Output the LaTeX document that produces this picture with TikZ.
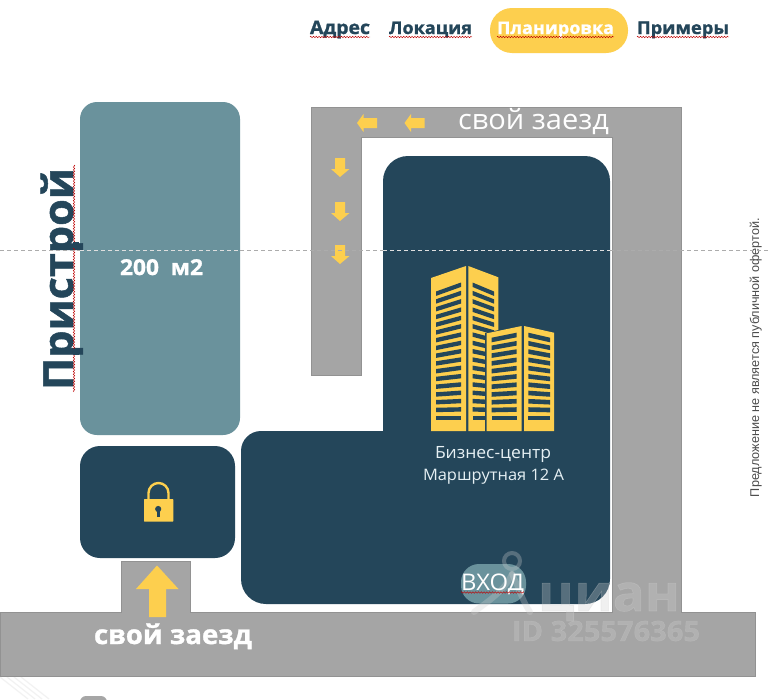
\documentclass[tikz,border=0pt]{standalone}
\usepackage{fontspec}
\usepackage{graphicx}
\usetikzlibrary{decorations.pathmorphing}
\setmainfont[FakeStretch=1.04,BoldFeatures={FakeBold=1.2}]{Open Sans}
\newfontfamily\arialf{Liberation Sans}
\definecolor{roadc}{HTML}{A5A5A5}
\definecolor{roadl}{HTML}{929292}
\definecolor{darkc}{HTML}{24465A}
\definecolor{tealc}{HTML}{6A929C}
\definecolor{yelc}{HTML}{FDCF4E}
\definecolor{lightt}{HTML}{E6F0F4}
\definecolor{wmc}{HTML}{D0D0D0}
\newcommand{\fitw}[2]{\resizebox{#1pt}{!}{#2}}
\newcommand{\fsz}[1]{\fontsize{#1}{#1}\selectfont}
% bars: xL xR yL0 yR0 yEnd n thickness
\newcommand{\winbars}[7]{%
  \pgfmathsetmacro{\nn}{#6-1}%
  \foreach \ii in {0,...,\nn}{%
    \pgfmathsetmacro{\ya}{#3+(#5-#3)*\ii/\nn}%
    \pgfmathsetmacro{\yb}{#4+(#5-#4)*\ii/\nn}%
    \fill[darkc] (#1,\ya) -- (#2,\yb) -- (#2,\yb+#7) -- (#1,\ya+#7) -- cycle;
  }}
\tikzset{
  x=1pt,y=-1pt,
  txt/.style={inner sep=0pt,outer sep=0pt},
  arr/.style={fill=yelc,draw=none},
  squigl/.style={red!75!black,line width=.45pt,decorate,decoration={zigzag,amplitude=.8pt,segment length=2.8pt}},
  foldd/.style={gray!65,line width=.5pt,dash pattern=on 4pt off 3pt},
  foldl/.style={white!75!gray,line width=.5pt,dash pattern=on 4pt off 3pt},
}
\newcommand{\squig}[3]{\draw[squigl] (#1,#3) -- (#2,#3);}
\begin{document}
\begin{tikzpicture}
\useasboundingbox (0,0) rectangle (770,699);
\fill[white] (0,0) rectangle (770,699);
% faint corner pattern
\foreach \dd in {0,7,14,21}{
  \draw[black!5,line width=1.2pt] (\dd,677) -- (\dd+28,699);
}
% road
\draw[fill=roadc,draw=roadl,line width=.9pt] (311,107) -- (681,107) -- (681,612) -- (755,612) -- (755,676) -- (0,676) -- (0,612) -- (121,612) -- (121,561) -- (190,561) -- (190,612) -- (612,612) -- (612,137) -- (361,137) -- (361,375) -- (311,375) -- cycle;
% annex
\fill[tealc,rounded corners=17pt] (80,102) rectangle (240,435);
% lock box
\fill[darkc,rounded corners=20pt] (80,446) rectangle (235,558);
% main building
\fill[darkc,rounded corners=25pt] (383,300) -- (383,156) -- (610,156) -- (610,604) -- (241,604) [rounded corners=20pt] -- (241,431) [sharp corners] -- (383,431) -- cycle;
% tower 1
\fill[yelc] (431,278) -- (466,266) -- (466,431) -- (431,431) -- cycle;
\fill[yelc] (468.3,266) -- (498.3,277.3) -- (498.3,340) -- (485,340) -- (485,431) -- (468.3,431) -- cycle;
\winbars{436}{461}{291.5}{282.5}{415.5}{17}{4.4}
\winbars{472.5}{494}{282.5}{291.5}{415.5}{17}{4.4}
% tower 2
\fill[darkc] (485,333) -- (521.7,325) -- (556,331) -- (556,431) -- (485,431) -- cycle;
\fill[yelc] (486.7,333.3) -- (521.7,326) -- (521.7,431) -- (486.7,431) -- cycle;
\fill[yelc] (524,326) -- (554,332.7) -- (554,431) -- (524,431) -- cycle;
\winbars{491.7}{516.7}{337.7}{332.7}{415.5}{11}{4.6}
\winbars{528.3}{550}{332.7}{337.7}{415.5}{11}{4.6}
% lock
\draw[yelc,line width=2.4pt] (148.5,500) -- (148.5,493) arc[start angle=180,end angle=360,radius=10] -- (168.5,500);
\fill[yelc,rounded corners=.6pt] (144,499) rectangle (173.3,521.7);
\fill[darkc] (158.2,509) circle[radius=3.1];
\fill[darkc] (156.9,510) rectangle (159.5,516.5);
% arrows
\fill[arr] (157,565.5) -- (178.5,589) -- (166,589) -- (166,617) -- (149,617) -- (149,589) -- (136,589) -- cycle;
\foreach \xx in {0,47.5}{
  \fill[arr,xshift=\xx pt] (357,123) -- (363.5,114) -- (363.5,118) -- (377,118) -- (377,128) -- (363.5,128) -- (363.5,132) -- cycle;
}
\foreach \yy in {0,44,87}{
  \fill[arr,yshift=-\yy pt] (340,177) -- (331,169) -- (335,169) -- (335,158) -- (345,158) -- (345,169) -- (349.5,169) -- cycle;
}
% pill
\fill[yelc,rounded corners=22pt] (490,8) rectangle (628,53);
% entrance pill
\fill[tealc,rounded corners=18pt] (461,564) rectangle (526,603.5);
% watermark
\begin{scope}[opacity=.3]
\draw[wmc,line width=4pt] (512,561) circle[radius=8];
\draw[wmc,line width=6pt,line cap=round] (512,574) .. controls (505,590) and (490,600) .. (474,612);
\draw[wmc,line width=6pt,line cap=round] (512,574) .. controls (520,590) and (522,600) .. (530,612);
\node[txt,text=wmc,anchor=base west] (wmark) at (538,611) {\fitw{142}{\bfseries циан}};
\node[txt,text=wmc,anchor=base west] (wid) at (512,641) {\fitw{188}{\bfseries ID 325576365}};
\end{scope}
% header
\node[txt,anchor=base west,text=darkc] (h1) at (310,34) {\fitw{60}{\fsz{17}\bfseries Адрес}};
\node[txt,anchor=base west,text=darkc] (h2) at (389,34) {\fitw{83}{\fsz{17}\bfseries Локация}};
\node[txt,anchor=base west,text=white] (h3) at (497,34) {\fitw{117}{\fsz{17}\bfseries Планировка}};
\node[txt,anchor=base west,text=darkc] (h4) at (637,34) {\fitw{92}{\fsz{17}\bfseries Примеры}};
\squig{310}{370}{37}
\squig{389}{472}{37}
\squig{497}{614}{37}
\squig{637}{729}{37}
% labels
\node[txt,anchor=base west,text=white] (t1) at (458,129) {\fitw{151}{\fsz{26}свой заезд}};
\node[txt,anchor=base west,text=white] (t2) at (94,644) {\fitw{158}{\fsz{25}\bfseries свой заезд}};
\node[txt,anchor=base west,text=white] (t3) at (120,275) {\fitw{83}{\fsz{21}\bfseries 200~~м2}};
\node[txt,anchor=base west,text=darkc,rotate=90] (t4) at (73,390) {\fitw{222}{\fsz{42}\bfseries Пристрой}};
\node[txt,anchor=base,text=lightt] (t5) at (493,458) {\fitw{116}{\fsz{16}Бизнес-центр}};
\node[txt,anchor=base,text=lightt] (t6) at (493.5,480) {\fitw{141}{\fsz{16}Маршрутная 12 А}};
\node[txt,anchor=base west,text=white] (t7) at (461,590) {\fitw{63}{\fsz{21}ВХОД}};
\squig{461}{524}{592.5}
\node[txt,anchor=base west,text=black!70,rotate=90] (t8) at (759,497) {\fitw{279}{\fsz{12}\arialf Предложение не является публичной офертой.}};
% cut-off row at the lower edge
\fill[black!35,rounded corners=6pt] (80,696) rectangle (107,715);
% spell-check squiggle beside the vertical word
\draw[squigl] (74,165) -- (74,392);
\fill[darkc] (73,242) rectangle (79,248);
\fill[darkc] (73,349) rectangle (79,355);
% dashed fold line
\draw[foldd] (0,250) -- (80,250);
\draw[foldl] (80,250) -- (240,250);
\draw[foldd] (240,250) -- (383,250);
\draw[foldl] (383,250) -- (610,250);
\draw[foldd] (610,250) -- (770,250);
\end{tikzpicture}
\end{document}
